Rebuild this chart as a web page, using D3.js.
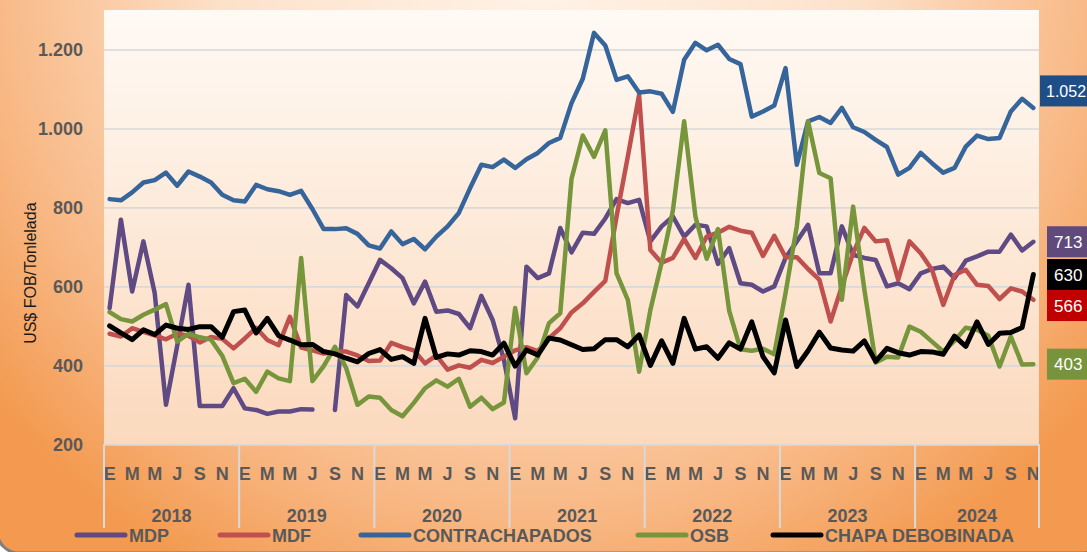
<!DOCTYPE html>
<html>
<head>
<meta charset="utf-8">
<script src="https://cdn.jsdelivr.net/npm/d3@7"></script>
<style>
  html, body { margin: 0; padding: 0; overflow: hidden; background: #fff; }
  text { font-family: "Liberation Sans", Arial, sans-serif; }
</style>
</head>
<body>
<script>
// categories: monthly, Jan 2018 .. Nov 2024
const years = [2018, 2019, 2020, 2021, 2022, 2023, 2024];
const monthsPerYear = [12, 12, 12, 12, 12, 12, 11];
const monthLetters = ["E", "F", "M", "A", "M", "J", "J", "A", "S", "O", "N", "D"];
const yTicks = [200, 400, 600, 800, 1000, 1200];
const seriesNames = ["MDP", "MDF", "CONTRACHAPADOS", "OSB", "CHAPA DEBOBINADA"];

const mdp = [545, 769, 587, 714, 583, 300, 450, 604, 297, 297, 297, 342,
  291, 287, 277, 283, 283, 289, 288, null, 287, 578, 549, 608,
  667, 646, 621, 557, 612, 536, 539, 530, 494, 576, 515, 414,
  266, 650, 621, 633, 748, 686, 736, 733, 772, 821, 811, 819,
  714, 752, 777, 726, 756, 752, 657, 697, 608, 604, 587, 600,
  672, 714, 756, 633, 633, 752, 680, 672, 667, 600, 608, 593,
  633, 644, 650, 621, 665, 676, 688, 688, 731, 691, 713];

const mdf = [480, 473, 494, 485, 476, 466, 480, 475, 458, 472, 467, 443,
  468, 495, 464, 451, 523, 445, 438, 430, 435, 435, 425, 411,
  412, 457, 446, 438, 405, 425, 389, 400, 394, 414, 406, 422,
  438, 446, 436, 469, 494, 534, 557, 586, 614, 777, 929, 1085,
  692, 660, 672, 720, 672, 726, 736, 751, 741, 736, 677, 728,
  674, 674, 644, 617, 511, 600, 684, 748, 714, 717, 617, 714,
  684, 642, 553, 629, 642, 604, 601, 568, 595, 587, 566];

const contrachapados = [821, 818, 838, 863, 869, 888, 855, 891, 878, 863, 832, 818,
  815, 857, 846, 841, 832, 842, 796, 745, 745, 747, 733, 704,
  696, 739, 707, 720, 694, 726, 752, 786, 849, 908, 902, 921,
  900, 922, 938, 963, 976, 1064, 1126, 1242, 1210, 1123, 1132, 1091,
  1094, 1088, 1042, 1174, 1217, 1198, 1212, 1176, 1163, 1030, 1043, 1058,
  1153, 908, 1018, 1029, 1014, 1052, 1003, 991, 971, 953, 883, 900,
  938, 912, 888, 900, 954, 982, 973, 976, 1043, 1075, 1052];

const osb = [535, 517, 511, 528, 541, 555, 460, 480, 471, 465, 424, 355,
  366, 333, 384, 367, 360, 672, 360, 398, 447, 393, 300, 321,
  318, 287, 271, 305, 342, 362, 346, 366, 295, 318, 289, 306,
  545, 380, 420, 507, 532, 872, 982, 928, 995, 633, 566, 384,
  540, 660, 792, 1018, 777, 670, 745, 538, 441, 437, 442, 428,
  583, 752, 1018, 887, 874, 566, 802, 591, 407, 422, 420, 498,
  485, 460, 435, 462, 495, 490, 475, 397, 473, 402, 403];

const chapa = [500, 482, 465, 490, 478, 502, 494, 491, 498, 498, 471, 536,
  540, 482, 519, 475, 464, 452, 453, 435, 429, 418, 409, 430,
  440, 415, 422, 405, 519, 420, 429, 426, 437, 435, 426, 456,
  398, 439, 426, 469, 464, 452, 440, 442, 465, 465, 447, 477,
  400, 462, 405, 519, 441, 447, 418, 457, 441, 510, 422, 381,
  515, 397, 437, 484, 444, 439, 436, 462, 410, 443, 432, 426,
  435, 434, 428, 474, 448, 510, 453, 481, 483, 496, 630];

const seriesValues = [mdp, mdf, contrachapados, osb, chapa];
const seriesColors = ["#5f4a83", "#c0504d", "#35659b", "#77963c", "#000000"];
const labelFill = ["#604a7b", "#c00000", "#1f4e86", "#77933c", "#000000"];

const W = 1087, H = 552;
const plot = { left: 104, right: 1039, top: 10, bottom: 444.3 };

const categories = years.flatMap((yr, k) =>
  d3.range(monthsPerYear[k]).map(m => ({ year: yr, month: m })));

const svg = d3.select("body").append("svg")
  .attr("width", W).attr("height", H);

const defs = svg.append("defs");
const bg = defs.append("radialGradient").attr("id", "bg")
  .attr("gradientUnits", "userSpaceOnUse")
  .attr("cx", 543).attr("cy", -40).attr("r", 700);
bg.append("stop").attr("offset", 0).attr("stop-color", "#fff3e8");
bg.append("stop").attr("offset", 0.45).attr("stop-color", "#fde2cb");
bg.append("stop").attr("offset", 0.8).attr("stop-color", "#f8b783");
bg.append("stop").attr("offset", 1).attr("stop-color", "#f39a50");

const pg = defs.append("linearGradient").attr("id", "pg")
  .attr("x1", 0).attr("y1", 0).attr("x2", 0).attr("y2", 1);
pg.append("stop").attr("offset", 0).attr("stop-color", "#fffaf5");
pg.append("stop").attr("offset", 1).attr("stop-color", "#fbd9bd");

defs.append("clipPath").attr("id", "clip").append("rect")
  .attr("x", plot.left).attr("y", plot.top)
  .attr("width", plot.right - plot.left).attr("height", plot.bottom - plot.top + 4);

// chart background with rounded border (only the corner shows)
svg.append("rect").attr("x", -3).attr("y", -30).attr("width", W + 20).attr("height", H + 31)
  .attr("rx", 22).attr("fill", "url(#bg)").attr("stroke", "#7f7f7f").attr("stroke-width", 3);

svg.append("rect")
  .attr("x", plot.left).attr("y", plot.top)
  .attr("width", plot.right - plot.left).attr("height", plot.bottom - plot.top)
  .attr("fill", "url(#pg)");

const x = d3.scaleBand()
  .domain(d3.range(categories.length))
  .range([plot.left, plot.right]);
const xc = i => x(i) + x.bandwidth() / 2;

const y = d3.scaleLinear().domain([200, 1300]).range([plot.bottom, plot.top]);

const fmt = d3.formatLocale({ decimal: ",", thousands: ".", grouping: [3], currency: ["", "$"] }).format(",");

// gridlines
svg.append("g")
  .attr("transform", `translate(${plot.left},0)`)
  .call(d3.axisLeft(y).tickValues(yTicks).tickSize(-(plot.right - plot.left)).tickFormat(""))
  .call(g => g.select(".domain").remove())
  .call(g => g.selectAll("line").attr("stroke", "#d9d9d9").attr("stroke-width", 1.6));

// y axis labels
svg.append("g")
  .attr("transform", `translate(83,0)`)
  .call(d3.axisLeft(y).tickValues(yTicks).tickSize(0).tickPadding(0).tickFormat(fmt))
  .call(g => g.select(".domain").remove())
  .call(g => g.selectAll("text")
    .attr("fill", "#595959").attr("font-size", 18).attr("font-weight", "bold")
    .attr("font-family", "Liberation Sans, Arial, sans-serif"));

svg.append("text")
  .attr("transform", `translate(36,${(plot.top + plot.bottom) / 2 + 46}) rotate(-90)`)
  .attr("text-anchor", "middle")
  .attr("font-size", 16).attr("fill", "#1a1a1a")
  .text("US$ FOB/Tonlelada");

// x axis: month letters
const monthTicks = d3.range(categories.length).filter(i => categories[i].month % 2 === 0);
svg.append("g")
  .attr("transform", `translate(0,${plot.bottom})`)
  .call(d3.axisBottom(x).tickValues(monthTicks).tickSize(0).tickPadding(36)
    .tickFormat(i => monthLetters[categories[i].month]))
  .call(g => g.select(".domain").attr("stroke", "#d9d9d9").attr("stroke-width", 1.6))
  .call(g => g.selectAll("text")
    .attr("fill", "#595959").attr("font-size", 18).attr("font-weight", "bold")
    .attr("font-family", "Liberation Sans, Arial, sans-serif")
    .attr("dy", "0"));

// year separators and labels
let start = 0;
const yearSpans = years.map((yr, k) => {
  const s = { year: yr, from: start, to: start + monthsPerYear[k] - 1 };
  start += monthsPerYear[k];
  return s;
});
const sepX = yearSpans.map(s => x(s.from)).concat([x(yearSpans[yearSpans.length - 1].to) + x.bandwidth()]);
svg.append("g").selectAll("line").data(sepX).join("line")
  .attr("x1", d => d).attr("x2", d => d)
  .attr("y1", plot.bottom).attr("y2", 528)
  .attr("stroke", "#d9d9d9").attr("stroke-width", 2);
svg.append("g").selectAll("text").data(yearSpans).join("text")
  .attr("x", s => (x(s.from) + x(s.to) + x.bandwidth()) / 2)
  .attr("y", 522)
  .attr("text-anchor", "middle")
  .attr("fill", "#595959").attr("font-size", 18).attr("font-weight", "bold")
  .text(s => s.year);

// lines
const line = d3.line()
  .defined(d => d != null)
  .x((d, i) => xc(i))
  .y(d => y(d));

const lines = svg.append("g").attr("clip-path", "url(#clip)");
seriesValues.forEach((vals, k) => {
  lines.append("path")
    .attr("d", line(vals))
    .attr("fill", "none")
    .attr("stroke", seriesColors[k])
    .attr("stroke-width", k === 4 ? 5 : 4.5)
    .attr("stroke-linejoin", "round")
    .attr("stroke-linecap", "round");
});

// last-value labels on the right
const labelNudge = { CONTRACHAPADOS: -17 };
const lastLabels = seriesValues.map((vals, k) => ({
  k, v: vals[vals.length - 1], cy: y(vals[vals.length - 1]) + (labelNudge[seriesNames[k]] || 0)
})).sort((a, b) => a.cy - b.cy);
for (let j = 1; j < lastLabels.length; j++) {
  if (lastLabels[j].cy < lastLabels[j - 1].cy + 31) lastLabels[j].cy = lastLabels[j - 1].cy + 31;
}
const lbl = svg.append("g").selectAll("g").data(lastLabels).join("g")
  .attr("transform", d => `translate(${d.k === 2 ? 1040 : 1047},${d.cy})`);
lbl.append("rect")
  .attr("x", 0).attr("y", -15.5).attr("width", 60).attr("height", 31)
  .attr("fill", d => labelFill[d.k]);
lbl.append("text")
  .attr("x", d => d.k === 2 ? 6 : 7).attr("y", 6)
  .attr("fill", "#fff").attr("font-size", d => d.k === 2 ? 16 : 17)
  .text(d => fmt(d.v));

// legend
const legendX = [77, 220, 361, 638, 773];
const leg = svg.append("g").selectAll("g").data(seriesNames).join("g")
  .attr("transform", (d, k) => `translate(${legendX[k]},535)`);
leg.append("line")
  .attr("x1", 0).attr("x2", 48).attr("y1", 0).attr("y2", 0)
  .attr("stroke", (d, k) => seriesColors[k]).attr("stroke-width", 5)
  .attr("stroke-linecap", "round");
leg.append("text")
  .attr("x", 52).attr("y", 7)
  .attr("fill", "#595959").attr("font-size", 18).attr("font-weight", "bold")
  .text(d => d);
</script>
</body>
</html>
